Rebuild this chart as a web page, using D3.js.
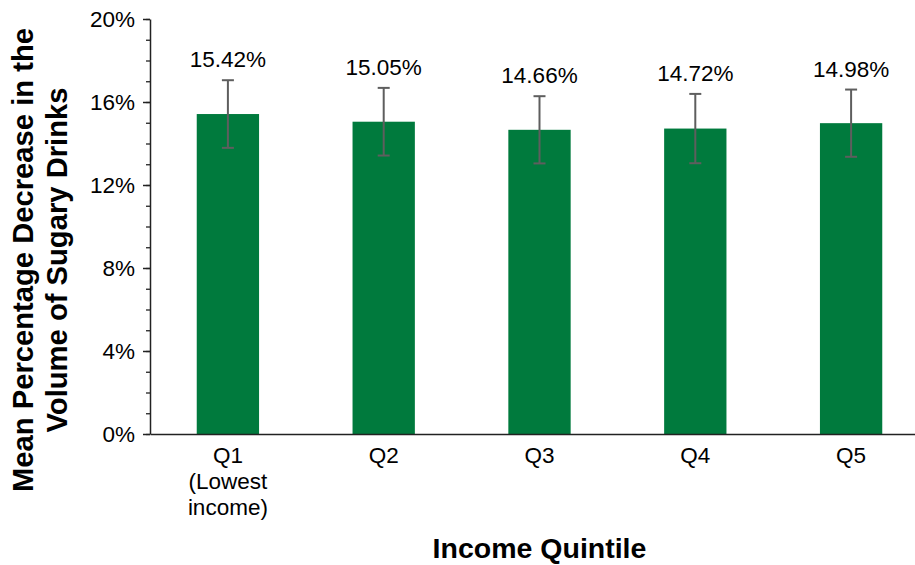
<!DOCTYPE html>
<html>
<head>
<meta charset="utf-8">
<script src="https://cdn.jsdelivr.net/npm/d3@7"></script>
<style>
  html, body { margin: 0; padding: 0; background: #fff; }
  svg { display: block; font-family: "Liberation Sans", Arial, sans-serif; }
</style>
</head>
<body>
<svg id="chart" width="915" height="565"></svg>
<script>
const categories = ["Q1", "Q2", "Q3", "Q4", "Q5"];
const categoryLines = [["Q1", "(Lowest", "income)"], ["Q2"], ["Q3"], ["Q4"], ["Q5"]];
const values = [15.42, 15.05, 14.66, 14.72, 14.98];
const errors = [1.63, 1.63, 1.62, 1.67, 1.62];
const valueLabels = ["15.42%", "15.05%", "14.66%", "14.72%", "14.98%"];
const yTicks = [0, 4, 8, 12, 16, 20];
const yMinorTicks = d3.range(0, 21, 1);
const yTitleLines = ["Mean Percentage Decrease in the", "Volume of Sugary Drinks"];
const xTitle = "Income Quintile";

const FONT = "'Liberation Sans', Arial, sans-serif";
const svg = d3.select("#chart");
const plotLeft = 150, plotRight = 929, plotTop = 19, plotBottom = 434;

const x = d3.scaleBand().domain(categories).range([plotLeft, plotRight]).padding(0);
const y = d3.scaleLinear().domain([0, 20]).range([plotBottom, plotTop]);
const barW = x.bandwidth() * 0.4;

// bars
svg.append("g").selectAll("rect").data(categories).join("rect")
  .attr("x", (d) => x(d) + x.bandwidth() / 2 - barW / 2)
  .attr("y", (d, i) => y(values[i]))
  .attr("width", barW)
  .attr("height", (d, i) => y(0) - y(values[i]))
  .attr("fill", "#007a3d");

// error bars
const eb = svg.append("g").attr("stroke", "#5e5e5e").attr("stroke-width", 2);
categories.forEach((c, i) => {
  const cx = x(c) + x.bandwidth() / 2;
  const y1 = y(values[i] + errors[i]), y2 = y(values[i] - errors[i]);
  eb.append("line").attr("x1", cx).attr("x2", cx).attr("y1", y1).attr("y2", y2);
  eb.append("line").attr("x1", cx - 6).attr("x2", cx + 6).attr("y1", y1).attr("y2", y1);
  eb.append("line").attr("x1", cx - 6).attr("x2", cx + 6).attr("y1", y2).attr("y2", y2);
});

// value labels
svg.append("g").selectAll("text").data(categories).join("text")
  .attr("x", (d) => x(d) + x.bandwidth() / 2)
  .attr("y", (d, i) => y(values[i] + errors[i]) - 13)
  .attr("text-anchor", "middle")
  .attr("font-family", FONT)
  .attr("font-size", 22.5)
  .attr("fill", "#000")
  .text((d, i) => valueLabels[i]);

// y axis minor ticks
const yMinor = svg.append("g").attr("transform", `translate(${plotLeft},0)`)
  .call(d3.axisLeft(y).tickValues(yMinorTicks).tickSize(4).tickFormat(""));
yMinor.select(".domain").remove();
yMinor.selectAll("line").attr("stroke", "#222").attr("stroke-width", 1.3);

// y axis major
const yAxis = svg.append("g").attr("transform", `translate(${plotLeft},0)`)
  .call(d3.axisLeft(y).tickValues(yTicks).tickSize(7).tickSizeOuter(0).tickPadding(8).tickFormat((d) => d + "%"));
yAxis.select(".domain").attr("stroke", "#222").attr("stroke-width", 1.5);
yAxis.selectAll("line").attr("stroke", "#222").attr("stroke-width", 1.5);
yAxis.selectAll("text").attr("font-size", 22.5).attr("fill", "#000").attr("font-family", FONT);

// x axis
const xAxis = svg.append("g").attr("transform", `translate(0,${plotBottom})`)
  .call(d3.axisBottom(x).tickSize(0).tickSizeOuter(0).tickFormat(""));
xAxis.select(".domain").attr("stroke", "#222").attr("stroke-width", 1.5);

// category labels
const catG = svg.append("g");
categories.forEach((c, i) => {
  const t = catG.append("text")
    .attr("x", x(c) + x.bandwidth() / 2)
    .attr("y", 463)
    .attr("text-anchor", "middle")
    .attr("font-family", FONT)
    .attr("font-size", 22.5)
    .attr("fill", "#000");
  categoryLines[i].forEach((ln, j) => {
    t.append("tspan").attr("x", x(c) + x.bandwidth() / 2).attr("y", 463 + j * 26).text(ln);
  });
});

// x title
svg.append("text")
  .attr("x", (plotLeft + plotRight) / 2)
  .attr("y", 558)
  .attr("text-anchor", "middle")
  .attr("font-family", FONT)
  .attr("font-size", 28.5)
  .attr("font-weight", "bold")
  .attr("fill", "#000")
  .text(xTitle);

// y title
const yt = svg.append("text")
  .attr("transform", "translate(0,260) rotate(-90)")
  .attr("text-anchor", "middle")
  .attr("font-family", FONT)
  .attr("font-size", 29.2)
  .attr("font-weight", "bold")
  .attr("fill", "#000");
yTitleLines.forEach((ln, j) => {
  yt.append("tspan").attr("x", 0).attr("y", 33 + j * 34).text(ln);
});
</script>
</body>
</html>
